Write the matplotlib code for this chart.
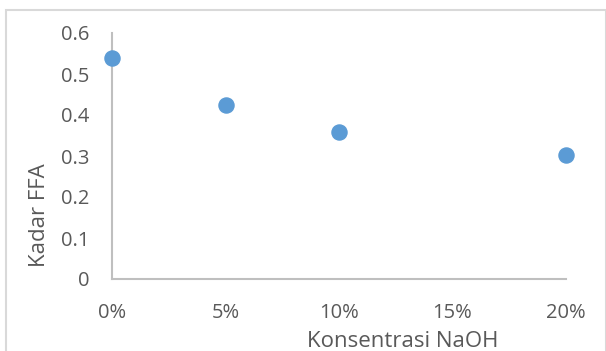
import matplotlib.pyplot as plt
from matplotlib.patches import Rectangle
from matplotlib.ticker import FuncFormatter

# NaOH concentration vs free fatty acid content
konsentrasi = [0.00, 0.05, 0.10, 0.20]
kadar_ffa = [0.538, 0.424, 0.359, 0.302]
x_ticks = [0.00, 0.05, 0.10, 0.15, 0.20]
y_ticks = [0, 0.1, 0.2, 0.3, 0.4, 0.5, 0.6]

plt.rcParams['font.family'] = ['Open Sans', 'DejaVu Sans']
text_color = '#595959'
axis_color = '#bfbfbf'

fig = plt.figure(figsize=(6.06, 3.51), dpi=100)
ax = fig.add_axes([112 / 606, 1 - 279 / 351, (566 - 112) / 606, (279 - 33) / 351])

ax.scatter(konsentrasi, kadar_ffa, s=118, color='#5b9bd5', zorder=3, clip_on=False)

ax.set_xlim(0, 0.2)
ax.set_ylim(0, 0.6)
ax.set_xticks(x_ticks)
ax.set_yticks(y_ticks)
ax.xaxis.set_major_formatter(FuncFormatter(lambda v, p: f'{v * 100:.0f}%'))
ax.yaxis.set_major_formatter(FuncFormatter(lambda v, p: '0' if v == 0 else f'{v:.1f}'))
ax.tick_params(length=0, labelsize=14.5, labelcolor=text_color)
ax.tick_params(axis='y', pad=16)
ax.tick_params(axis='x', pad=17)

for side in ['top', 'right']:
    ax.spines[side].set_visible(False)
for side in ['left', 'bottom']:
    ax.spines[side].set_color(axis_color)
    ax.spines[side].set_linewidth(1.5)

ax.set_xlabel('Konsentrasi NaOH', fontsize=16, color=text_color, labelpad=6)
ax.set_ylabel('Kadar FFA', fontsize=16, color=text_color, labelpad=8)
# axis titles sit off-centre
ax.xaxis.label.set_x(0.64)
ax.yaxis.label.set_y(0.26)

# light chart-area frame, open on the right and bottom
fig.patches.append(Rectangle((6 / 606, -0.05), 0.99, 1.05 - 10 / 351,
                             transform=fig.transFigure, fill=False,
                             edgecolor='#d9d9d9', linewidth=1.5))

fig.savefig('out.png', dpi=100)
